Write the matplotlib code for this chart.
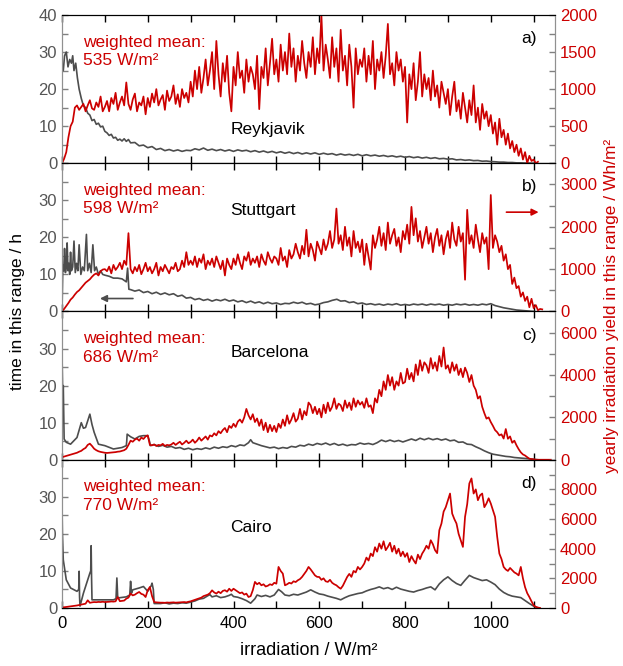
import numpy as np
import matplotlib
matplotlib.use('Agg')
import matplotlib.pyplot as plt
from matplotlib.ticker import MultipleLocator, FuncFormatter

plt.rcParams['font.family'] = ['Liberation Sans', 'DejaVu Sans']
plt.rcParams['font.size'] = 12

RED = '#cc0000'
GRAY = '#4d4d4d'

cities = ['Reykjavik', 'Stuttgart', 'Barcelona', 'Cairo']
means = [535, 598, 686, 770]
letters = ['a)', 'b)', 'c)', 'd)']

# yearly irradiation yield, Wh/m2, one value every 5 W/m2 starting at 0
red_a = [0, 60, 150, 350, 500, 560, 750, 780, 720, 760,
         800, 700, 780, 850, 740, 720, 820, 760, 900, 700,
         760, 840, 700, 880, 800, 950, 720, 820, 900, 780,
         1090, 800, 720, 860, 940, 700, 820, 780, 900, 660,
         880, 760, 940, 820, 1000, 780, 860, 920, 720, 980,
         840, 900, 1050, 800, 930, 760, 1000, 880, 950, 820,
         1100, 900, 1250, 1000, 1300, 950, 1150, 1400, 1050, 1250,
         1500, 1000, 1650, 1200, 900, 1350, 1100, 1450, 950, 700,
         1300, 1050, 1500, 1150, 1250, 950, 1400, 1100, 1300, 1200,
         1000, 1450, 730, 1300, 1150, 1550, 1050, 1350, 1680, 1200,
         1400, 1100, 1600, 1250, 1500, 1200, 1750, 1300, 1550, 1100,
         1450, 1250, 1650, 1350, 1150, 1500, 1300, 1700, 1200, 1550,
         1350, 2000, 1250, 1600, 1400, 1150, 1700, 1300, 1550, 1100,
         1800, 1250, 1450, 1050, 1600, 1300, 750, 1550, 1200, 1400,
         1300, 1550, 1100, 1450, 1200, 1650, 1000, 1400, 1250, 1500,
         1150, 1450, 1880, 1200, 1350, 1050, 1500, 1250, 1400, 1100,
         1300, 550, 1200, 1000, 1350, 850, 1100, 1500, 900, 1200,
         1000, 1150, 850, 1250, 900, 1050, 750, 1100, 950, 800,
         1000, 650, 900, 1100, 700, 850, 600, 950, 750, 550,
         850, 650, 1050, 550, 750, 450, 800, 600, 700, 500,
         650, 400, 550, 250, 600, 350, 450, 250, 400, 200,
         300, 150, 250, 100, 200, 50, 150, 0, 100, 30,
         50, 0, 20]

red_b = [0, 60, 130, 200, 280, 330, 400, 460, 500, 560,
         620, 680, 720, 760, 820, 870, 900, 850, 950, 990,
         1000, 950, 1060, 900, 1100, 980, 1050, 1150, 1000, 1200,
         1100, 1850, 1000, 900, 1050, 950, 1100, 880, 1000, 1150,
         950, 1050, 900, 1000, 1150, 850, 1050, 950, 1100, 1000,
         900, 1050, 1000, 1150, 950, 1000, 1200, 1050, 1400, 1100,
         1200, 1100, 1300, 1050, 1250, 1150, 1350, 1000, 1200, 1100,
         1250, 1050, 1300, 1150, 1000, 1200, 850, 1250, 1100, 1000,
         1250, 1100, 1350, 1150, 1000, 1300, 1200, 1400, 1100, 1250,
         1150, 1300, 1050, 1350, 1200, 1100, 1400, 1250, 1150, 1300,
         1250, 1100, 1500, 1200, 1300, 1050, 1450, 1250, 1350, 1600,
         1400, 1250, 1550, 1350, 1930, 1300, 1600, 1450, 1200, 1650,
         1500, 1350, 1700, 1450, 1600, 1900, 1500, 1700, 2430, 1600,
         1800, 1450, 2000, 1550, 1750, 1300, 1900, 1500, 1650, 1400,
         1700, 1100, 1600, 1300, 990, 1800, 1500, 1700, 2000, 1550,
         1850, 1450, 2100, 1600, 1800, 1950, 1550, 1750, 1400, 1900,
         1700, 2050, 1600, 2470, 1800, 2200, 1650, 1900, 1500, 1750,
         2000, 1600, 1850, 1400, 1750, 1950, 1550, 1800, 1350, 1700,
         1900, 1500, 2100, 1700, 1550, 2000, 1650, 1850, 750, 2400,
         1600, 1800, 1500, 2050, 1700, 1400, 1850, 1600, 1750, 1000,
         2750, 1500, 1800, 1650, 1400, 1550, 1200, 1350, 1000, 1100,
         650, 800, 550, 600, 350, 450, 250, 350, 100, 300,
         80, 150, 30, 60, 50]

red_c = [120, 150, 180, 210, 240, 270, 300, 330, 380, 420,
         500, 560, 700, 760, 650, 520, 450, 400, 370, 350,
         330, 320, 330, 340, 350, 360, 380, 390, 420, 450,
         520, 700, 900, 850, 950, 1000, 900, 1050, 980, 1100,
         1150, 700, 680, 720, 650, 700, 680, 750, 650, 700,
         680, 720, 800, 700, 780, 850, 720, 800, 900, 780,
         840, 950, 800, 900, 1050, 900, 1000, 1100, 950, 1150,
         1100, 1250, 1150, 1350, 1250, 1400, 1500, 1300, 1600, 1500,
         1700, 1550, 1800, 1900, 1750, 2000, 2400, 2100, 1900, 2150,
         1780, 1950, 1600, 1900, 1400, 1750, 1300, 1650, 1350, 1600,
         1310, 1700, 1500, 1900, 1600, 2100, 1700, 1900, 2200, 1800,
         1940, 2400, 1900, 2300, 2100, 2700, 2570, 2200, 2500, 2150,
         2410, 2000, 2600, 2200, 2700, 2300, 2500, 2900, 2400, 2650,
         2570, 2300, 2800, 2450, 2700, 2350, 2900, 2500, 2800, 2600,
         2730, 2450, 2900, 2500, 2570, 2200, 2900, 2700, 3300, 3000,
         3700, 3300, 4000, 3500, 3900, 3300, 3700, 3500, 4100, 3600,
         3670, 4300, 3800, 4100, 3700, 4500, 4000, 4700, 4200, 4600,
         4460, 4100, 4800, 4300, 4600, 4200, 4900, 4400, 5300, 4300,
         4460, 4100, 4600, 4200, 4500, 4000, 4300, 3900, 4350, 4100,
         3670, 4000, 3500, 3300, 2890, 3000, 2500, 2200, 1940, 2000,
         1780, 1600, 1400, 1300, 1150, 1200, 1000, 1450, 990, 1100,
         800, 900, 680, 500, 350, 250, 200, 120, 50, 30,
         20, 0, 0, 0, 0, 0, 0, 0, 0]

red_d = [30, 50, 70, 90, 110, 130, 150, 170, 200, 230,
         260, 290, 520, 350, 380, 400, 390, 410, 400, 420,
         400, 410, 420, 440, 430, 450, 740, 460, 480, 500,
         630, 700, 970, 850, 900, 1000, 1080, 950, 900, 740,
         1200, 1420, 800, 400, 380, 370, 360, 360, 350, 370,
         360, 370, 380, 360, 370, 380, 390, 400, 380, 420,
         450, 500, 550, 600, 650, 700, 800, 850, 900, 1000,
         1190, 1050, 970, 1100, 1000, 1150, 1200, 1100, 1300, 1150,
         1300, 1200, 1100, 1000, 1050, 900, 970, 740, 800, 1200,
         1760, 1600, 1700, 1530, 1600, 1450, 1500, 1600, 1550, 1700,
         1640, 2770, 2500, 2320, 1530, 1600, 1700, 1650, 1800, 1750,
         1870, 1950, 2100, 2300, 2500, 2770, 2600, 2400, 2200, 2100,
         2090, 1900, 2000, 1800, 1760, 1900, 1700, 1600, 1530, 1400,
         1300, 1500, 1800, 2090, 2300, 2100, 2500, 2400, 2770, 2600,
         2770, 3000, 3400, 3200, 3670, 3500, 4100, 3800, 4350, 4000,
         4500, 3900, 4120, 4400, 3800, 4200, 3670, 4000, 3500, 3800,
         3450, 3700, 3100, 3500, 3220, 3000, 3600, 3300, 3670, 3900,
         4200, 4000, 4570, 4300, 3900, 3700, 5250, 5700, 6500, 6800,
         7270, 7720, 6370, 6000, 5700, 5000, 4570, 4120, 6150, 7000,
         8400, 8740, 7720, 8000, 7270, 7600, 7720, 6800, 7050, 7400,
         7050, 6600, 6150, 4800, 3670, 3300, 2770, 2600, 2500, 2700,
         2550, 2400, 2320, 2200, 2770, 2000, 1400, 1000, 740, 450,
         180, 80, 30, 0]

# time in this range, h
gray_a_x = [0, 3, 6, 10, 14, 18, 22, 25, 28, 32, 36, 40, 45, 50, 55, 60, 65, 70, 75, 80,
            85, 90, 95, 100, 105, 110, 115, 120, 125, 130, 135, 140, 145, 150, 155, 160, 170, 180, 190, 200,
            210, 220, 230, 240, 250, 260, 270, 280, 290, 300, 310, 320, 330, 340, 350, 360,
            370, 380, 390, 400, 410, 420, 430, 440, 450, 460, 470, 480, 490, 500, 510, 520,
            530, 540, 550, 560, 570, 580, 590, 600, 610, 620, 630, 640, 650, 660, 670, 680,
            690, 700, 710, 720, 730, 740, 750, 760, 770, 780, 790, 800, 810, 820, 830, 840,
            850, 860, 870, 880, 890, 900, 910, 920, 930, 940, 950, 960, 970, 980, 990, 1000,
            1010, 1020, 1030, 1040, 1050, 1060, 1070, 1080, 1090, 1100]
gray_a = [27, 25, 29, 30, 26, 28, 27, 29, 25, 27, 23, 20, 17.5, 15.5, 15, 13.5, 13, 11.5, 11.8, 10.5,
          10.8, 9.8, 10, 8.6, 8.2, 7.5, 7.8, 6.8, 7, 6.2, 6.5, 6, 6.6, 5.9, 6.4, 5.5, 5.6, 4.7, 4.9, 4.2,
          4.5, 3.7, 4, 3.4, 3.7, 3.3, 3.6, 3.2, 3.5, 3.4, 3.9, 3.6, 4.1, 3.5, 3.8, 3.4,
          3.7, 3.3, 3.6, 3.2, 3.6, 3.3, 3.5, 3.1, 3.4, 3, 3.3, 2.9, 3.2, 2.8, 3.1, 2.7,
          3, 2.6, 2.9, 2.5, 2.8, 2.5, 2.8, 2.4, 2.7, 2.4, 2.6, 2.2, 2.5, 2.2, 2.4, 2.1,
          2.4, 2.0, 2.3, 2.0, 2.2, 1.9, 2.1, 1.8, 2.0, 1.7, 1.9, 1.6, 1.8, 1.5, 1.7, 1.4,
          1.6, 1.3, 1.5, 1.2, 1.3, 1.1, 1.2, 0.9, 1.0, 0.8, 0.9, 0.7, 0.75, 0.55, 0.6, 0.45,
          0.4, 0.3, 0.3, 0.2, 0.2, 0.1, 0.1, 0.05, 0.05, 0]

gray_b_x = [0, 2, 4, 6, 8, 10, 12, 14, 16, 18, 20, 22, 25, 28, 31, 34, 37, 40, 44, 48,
            52, 57, 60, 64, 68, 72, 76, 80, 85, 90, 95, 100, 110, 120, 130, 140, 150, 153,
            156, 160, 170, 180, 190, 200, 210, 220, 230, 240, 250, 260, 270, 280, 290, 300,
            310, 320, 330, 340, 350, 360, 370, 380, 390, 400, 410, 420, 430, 440, 450, 460,
            470, 480, 490, 500, 510, 520, 530, 540, 550, 560, 570, 580, 590, 600, 610, 620,
            630, 641, 650, 660, 670, 680, 690, 700, 710, 720, 730, 740, 750, 760, 770, 780,
            790, 800, 810, 820, 830, 840, 850, 860, 870, 880, 890, 900, 910, 920, 930, 940,
            950, 960, 970, 980, 990, 1000, 1010, 1020, 1030, 1040, 1050, 1060, 1070, 1080,
            1090, 1100]
gray_b = [0, 12.5, 11, 17, 10.5, 12, 18.5, 11, 13, 10, 16, 11, 12, 19, 10.5, 13, 11, 18, 10, 12,
          11, 20.8, 11, 13, 10.5, 18, 11, 12, 10, 11, 10, 9.8, 9.5, 9, 9, 8.8, 8, 11.7,
          6, 5.9, 5.5, 5.8, 5.1, 5.4, 4.8, 5.2, 4.6, 5, 4.5, 4.8, 4.1, 4.4, 3.6, 3.8,
          3.2, 3.5, 3, 3.3, 2.8, 3.2, 2.9, 3.3, 2.8, 3.1, 2.6, 2.9, 2.4, 2.8, 2.3, 2.6,
          2.1, 2.5, 2.1, 2.3, 1.9, 2.2, 2.1, 2.5, 2.2, 2.5, 2.0, 2.2, 1.8, 2.0, 2.4, 2.6,
          3.0, 3.3, 2.8, 2.9, 2.4, 2.6, 2.1, 2.3, 1.9, 2.1, 1.8, 2.0, 1.7, 2.0, 1.8, 2.1,
          1.7, 1.9, 1.7, 2.0, 1.8, 2.0, 1.7, 2.0, 1.8, 2.0, 1.7, 1.9, 1.7, 2.0, 1.8, 2.0,
          1.7, 1.9, 1.7, 2.0, 1.8, 2.1, 1.6, 1.3, 1.0, 0.8, 0.6, 0.4, 0.3, 0.2,
          0.1, 0]

gray_c_x = [0, 1, 2, 3, 5, 10, 20, 35, 45, 50, 55, 60, 65, 70, 75, 85, 100, 120, 140, 150,
            151, 152, 160, 170, 180, 190, 200, 204, 206, 215, 225, 235, 245, 255, 265, 275,
            285, 295, 305, 315, 325, 335, 345, 355, 365, 375, 385, 395, 405, 415, 425, 435,
            440, 445, 455, 465, 475, 485, 495, 505, 515, 525, 535, 545, 555, 565, 575, 585,
            595, 605, 615, 625, 635, 645, 655, 665, 675, 685, 695, 705, 715, 725, 735, 745,
            755, 765, 775, 785, 795, 805, 815, 825, 835, 845, 855, 865, 875, 885, 895, 905,
            915, 925, 935, 945, 955, 965, 975, 985, 995, 1005, 1015, 1025, 1035, 1045, 1055,
            1065, 1075, 1085, 1095, 1110]
gray_c = [29, 22, 15.5, 20, 5.6, 4.7, 4.2, 6, 10, 8.5, 8.7, 10.5, 12.3, 9.5, 7.4, 4.2, 3.8, 2.9, 3.3, 3.8,
          5, 6.9, 6.2, 5.6, 6.3, 6.5, 6.5, 5, 3.8, 4.1, 3.6, 3.9, 3.4, 3.6, 3.1, 3.3,
          2.8, 3.1, 2.7, 3.0, 2.8, 3.2, 2.9, 3.4, 3.1, 3.5, 3.3, 3.8, 3.5, 4.0, 3.8, 4.6,
          5.4, 4.6, 4.2, 3.8, 3.5, 3.2, 3.4, 3.0, 3.3, 3.1, 3.6, 3.4, 3.9, 3.7, 4.2, 3.9,
          4.4, 4.1, 4.5, 4.0, 4.4, 3.9, 4.2, 3.8, 4.1, 4.0, 4.5, 4.2, 4.4, 4.1, 4.6, 5.3,
          4.9, 5.3, 4.9, 5.2, 4.8, 5.2, 5.6, 5.2, 5.8, 5.4, 5.8, 5.4, 5.7, 5.3, 5.6, 5.1,
          5.3, 4.7, 4.8, 4.2, 4.1, 3.5, 3.0, 2.4, 1.9, 1.5, 1.3, 1.1, 0.9, 0.8, 0.6,
          0.5, 0.4, 0.3, 0.2, 0]

gray_d_x = [0, 1, 3, 10, 20, 35, 39, 40, 41, 42, 50, 60, 65, 67, 68, 69, 70, 80, 120, 126,
            128, 130, 150, 158, 160, 162, 165, 180, 190, 200, 208, 210, 213, 215, 230, 240,
            250, 260, 270, 280, 290, 300, 310, 320, 330, 340, 345, 350, 360, 370, 380, 390,
            395, 400, 410, 420, 430, 440, 450, 455, 465, 475, 485, 495, 505, 512, 520, 530,
            540, 550, 560, 570, 580, 590, 600, 610, 620, 630, 640, 650, 660, 670, 680, 690,
            700, 710, 720, 730, 740, 750, 760, 770, 780, 790, 800, 810, 820, 830, 840, 850,
            860, 870, 880, 890, 900, 910, 920, 930, 940, 950, 960, 970, 980, 990, 1000, 1010,
            1020, 1030, 1040, 1050, 1060, 1070, 1080, 1090, 1100, 1110]
gray_d = [28, 20, 13, 7.6, 5.4, 4.5, 5, 9.9, 3, 0.5, 4, 7.6, 9.4, 10, 16.8, 8, 2.2, 2.2, 2.2, 2.5,
          8.1, 2.7, 3, 3.5, 7.2, 4, 4.9, 5.4, 5.8, 4.5, 6, 6.7, 5, 1.2, 1.2, 1.4,
          1.1, 1.3, 1.2, 1.4, 1.3, 1.6, 1.9, 2.4, 2.6, 3.3, 3.6, 3.0, 3.3, 2.8, 3.0, 3.4,
          3.7, 3.1, 2.9, 2.5, 2.0, 1.3, 2.5, 3.5, 3.1, 3.4, 3.0, 3.5, 5.0, 4.4, 3.5, 3.3,
          3.7, 3.5, 3.9, 4.3, 4.9, 4.3, 3.8, 3.6, 3.2, 2.9, 2.6, 2.2, 2.8, 3.3, 3.6, 3.9,
          4.1, 4.6, 5.0, 5.3, 5.7, 5.2, 5.5, 5.0, 5.6, 5.1, 4.8, 4.5, 4.3, 4.7, 5.0, 5.4,
          5.7, 4.9, 6.5, 7.6, 8.4, 7.4, 6.6, 6.1, 7.5, 8.8, 8.2, 7.8, 7.4, 7.6, 7.0, 6.3,
          5.1, 4.2, 3.6, 3.2, 3.0, 2.8, 2.0, 1.2, 0.5, 0]

reds = [red_a, red_b, red_c, red_d]
grays = [(gray_a_x, gray_a), (gray_b_x, gray_b), (gray_c_x, gray_c), (gray_d_x, gray_d)]
right_max = [2000, 3500, 7000, 10000]
right_major = [500, 1000, 2000, 2000]
right_minor = [250, 500, 1000, 1000]
right_top_label = [2000, 3000, 6000, 8000]
city_y = [0.23, 0.68, 0.72, 0.54]

fig = plt.figure(figsize=(6.23, 6.66), dpi=100)
gs = fig.add_gridspec(4, 1, left=0.0995, right=0.891, top=0.9775, bottom=0.0871, hspace=0)

for i in range(4):
    ax = fig.add_subplot(gs[i])
    ax2 = ax.twinx()

    gx, gy = grays[i]
    ax.plot(gx, gy, color=GRAY, lw=1.2)
    rx = np.arange(len(reds[i])) * 5
    ax2.plot(rx, reds[i], color=RED, lw=1.25)

    ax.set_xlim(0, 1150)
    ax.set_ylim(0, 40)
    ax2.set_ylim(0, right_max[i])

    ax.xaxis.set_major_locator(MultipleLocator(100))
    if i == 3:
        ax.xaxis.set_major_formatter(FuncFormatter(lambda v, p: f'{v:.0f}' if v % 200 == 0 else ''))
        ax.set_xlabel('irradiation / W/m²', labelpad=8, fontsize=13)
    else:
        ax.set_xticklabels([])
    ax.tick_params(axis='x', direction='in', top=True, length=5, width=1, labelsize=12, pad=6)

    ax.yaxis.set_major_locator(MultipleLocator(10))
    ax.yaxis.set_minor_locator(MultipleLocator(5))
    top_left = 40 if i == 0 else 30
    ax.yaxis.set_major_formatter(FuncFormatter(lambda v, p, t=top_left: f'{v:.0f}' if v <= t else ''))
    ax.tick_params(axis='y', which='both', direction='in', length=4, width=1,
                   labelsize=12, labelcolor='#555555', color='#808080')

    ax2.yaxis.set_major_locator(MultipleLocator(right_major[i]))
    ax2.yaxis.set_minor_locator(MultipleLocator(right_minor[i]))
    ax2.yaxis.set_major_formatter(
        FuncFormatter(lambda v, p, t=right_top_label[i]: f'{v:.0f}' if v <= t else ''))
    ax2.tick_params(axis='y', which='both', direction='in', length=4, width=1,
                    labelsize=12, labelcolor=RED, color='#808080')

    for a in (ax, ax2):
        a.spines['left'].set_color('#909090')
        a.spines['right'].set_color('#909090')
        a.spines['top'].set_color('black')
        a.spines['bottom'].set_color('black')

    ax.text(0.043, 0.755, f'weighted mean:\n{means[i]} W/m²', transform=ax.transAxes,
            color=RED, fontsize=12.5, va='center', ha='left', linespacing=1.3)
    ax.text(0.341, city_y[i], cities[i], transform=ax.transAxes,
            fontsize=12.5, va='center', ha='left')
    ax.text(0.963, 0.84, letters[i], transform=ax.transAxes,
            fontsize=12.5, va='center', ha='right')

    if i == 1:
        ax.annotate('', xy=(82, 3.5), xytext=(172, 3.5),
                    arrowprops=dict(arrowstyle='-|>', color=GRAY, lw=1.2, mutation_scale=10))
        ax.annotate('', xy=(1118, 26.8), xytext=(1030, 26.8),
                    arrowprops=dict(arrowstyle='-|>', color=RED, lw=1.2, mutation_scale=10))

fig.text(0.028, 0.532, 'time in this range / h', rotation=90, va='center', ha='center', fontsize=12.5)
fig.text(0.982, 0.54, 'yearly irradiation yield in this range / Wh/m²', rotation=90,
         va='center', ha='center', fontsize=12.5, color=RED)

fig.savefig('out.png', dpi=100)
